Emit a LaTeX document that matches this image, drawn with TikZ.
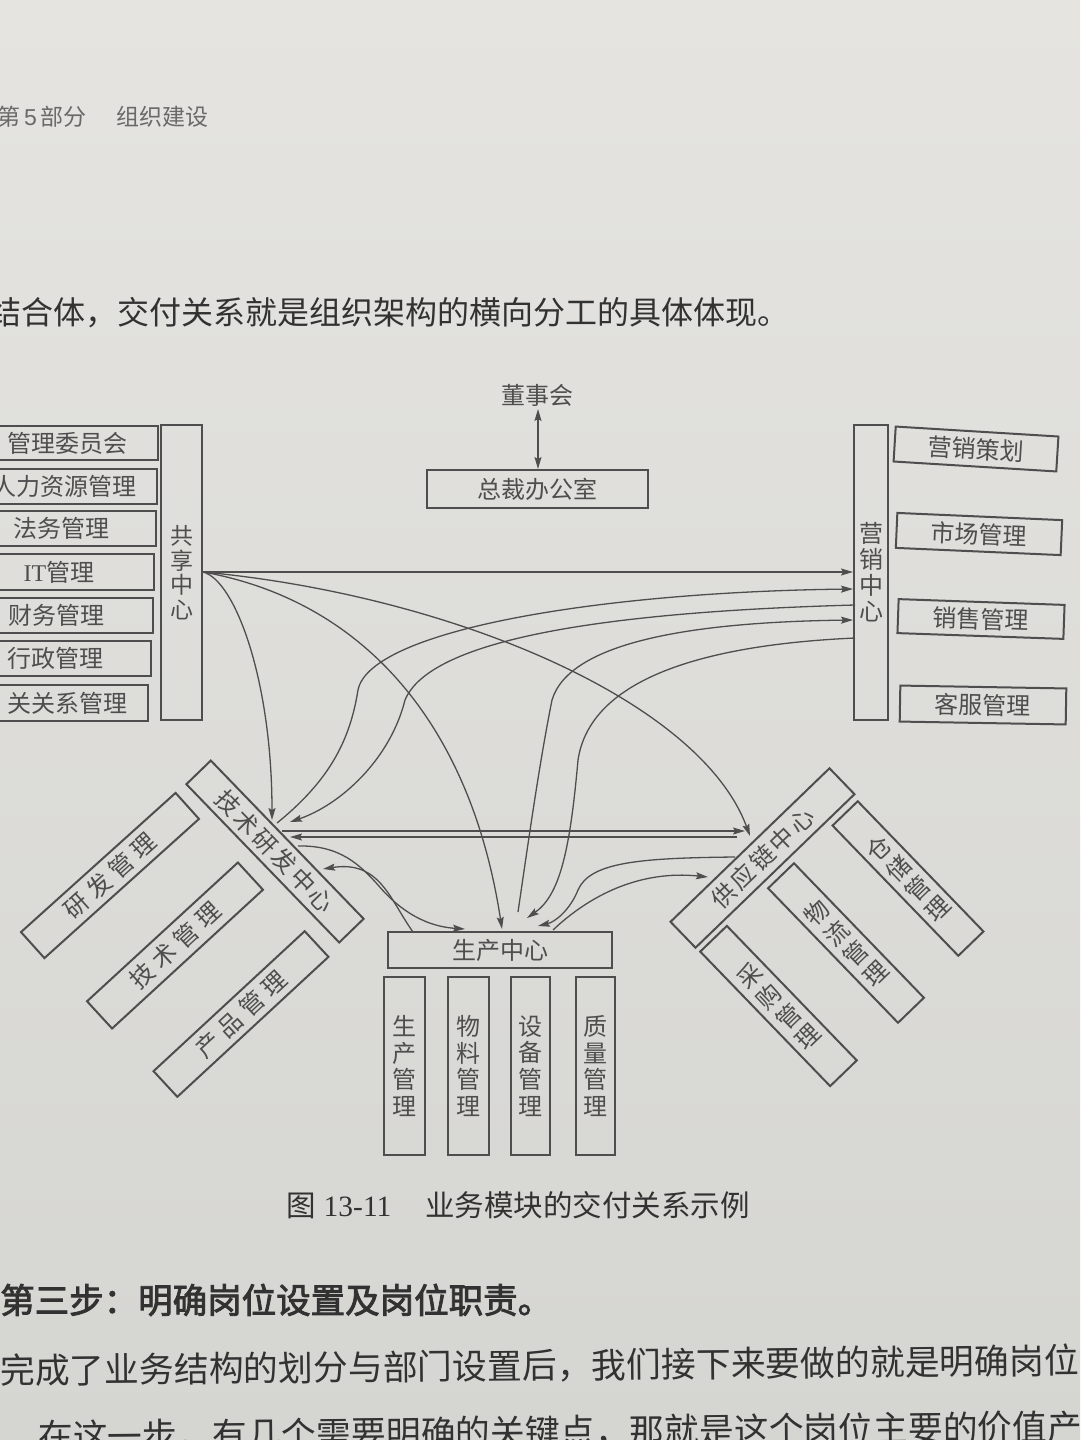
\documentclass[tikz,border=0pt]{standalone}
\usepackage{fontspec}
\setmainfont{Liberation Serif}
\setsansfont{Liberation Sans}
\newfontfamily\cjk{Noto Sans CJK SC}
\newfontfamily\cjkbold{Noto Sans CJK SC}[FakeBold=2.5]
\usetikzlibrary{arrows.meta}
\definecolor{paperA}{RGB}{229,228,224}
\definecolor{paperB}{RGB}{213,213,209}
\definecolor{ink}{RGB}{78,78,78}
\definecolor{bodyink}{RGB}{50,50,50}
\definecolor{headink}{RGB}{105,105,105}
\newcommand{\chgap}{\hspace{3pt}}
\newcommand{\chgapw}{\hspace{6pt}}
\begin{document}
\begin{tikzpicture}[x=1pt,y=1pt,
  box/.style={draw=ink, line width=2pt, inner sep=0pt, text=ink,
    font=\cjk\fontsize{24}{26.5}\selectfont, align=center},
  vbox/.style={box, font=\cjk\fontsize{24}{26.7}\selectfont},
  rvbox/.style={box, font=\cjk\fontsize{24}{28}\selectfont},
  lbl/.style={inner sep=0pt, text=ink, font=\cjk\fontsize{24}{26}\selectfont},
  conn/.style={draw=ink, line width=1.3pt},
  arr/.style={conn, -{Stealth[length=12pt,width=7pt,inset=2pt]}},
  darr/.style={conn, {Stealth[length=12pt,width=7pt,inset=2pt]}-{Stealth[length=12pt,width=7pt,inset=2pt]}},
  bodytext/.style={anchor=west, inner sep=0pt, text=bodyink}
]
\useasboundingbox (0,0) rectangle (1080,-1440);
\shade[top color=paperA, bottom color=paperB] (0,0) rectangle (1080,-1440);

% page text
\node[bodytext, text=headink, font=\cjk\fontsize{23}{23}\selectfont] (hd) at (-3,-117)
  {第\hspace{4pt}{\sffamily 5}\hspace{4pt}部分\hspace{30pt}组织建设};
\node[bodytext, font=\cjk\fontsize{32}{32}\selectfont] (t1) at (-11,-313)
  {结合体，交付关系就是组织架构的横向分工的具体体现。};
\node[bodytext, font=\cjk\fontsize{29.5}{29.5}\selectfont] (cap) at (286,-1205)
  {图\hspace{8pt}{\rmfamily 13-11}\hspace{34pt}业务模块的交付关系示例};
\node[bodytext, font=\cjkbold\fontsize{34.5}{34.5}\selectfont] (t2) at (0,-1300)
  {第三步：明确岗位设置及岗位职责。};
\node[bodytext, font=\cjk\fontsize{34.8}{34.8}\selectfont, rotate=0.55] (t3) at (0,-1371)
  {完成了业务结构的划分与部门设置后，我们接下来要做的就是明确岗位};
\node[bodytext, font=\cjk\fontsize{34.8}{34.8}\selectfont, rotate=0.55] (t4) at (38,-1437)
  {在这一步，有几个需要明确的关键点，那就是这个岗位主要的价值产};

% top
\node[lbl] (dsh) at (537,-395) {董事会};
\node[box, minimum width=221, minimum height=38] (zc) at (537.5,-489) {总裁办公室};
\coordinate (dsh-b) at (538,-409);
\coordinate (zc-t) at (538,-469);
\draw[darr] (dsh-b) -- (zc-t);

% shared services
\node[box, minimum width=182, minimum height=34] (m1) at (67,-443) {管理委员会};
\node[box, minimum width=184, minimum height=35] (m2) at (65,-486.5) {人力资源管理};
\node[box, minimum width=190, minimum height=35] (m3) at (61,-528.5) {法务管理};
\node[box, minimum width=190, minimum height=36] (m4) at (59,-572) {{\rmfamily IT}管理};
\node[box, minimum width=192, minimum height=35] (m5) at (57,-615.5) {财务管理};
\node[box, minimum width=192, minimum height=35] (m6) at (55,-658.5) {行政管理};
\node[box, minimum width=162, minimum height=36] (m7) at (67,-703) {关关系管理};
\node[box, minimum width=41, minimum height=295, font=\cjk\fontsize{23}{24.5}\selectfont] (gx) at (181.5,-572.5) {共\\享\\中\\心};

% marketing
\node[box, minimum width=34, minimum height=295, font=\cjk\fontsize{24}{26}\selectfont] (yx) at (871,-572.5) {营\\销\\中\\心};
\node[box, minimum width=163, minimum height=35, rotate=-3.5] (r1) at (976,-449) {营销策划};
\node[box, minimum width=165, minimum height=35, rotate=-2.5] (r2) at (979,-534) {市场管理};
\node[box, minimum width=166, minimum height=34, rotate=-2] (r3) at (981,-619) {销售管理};
\node[box, minimum width=166, minimum height=36, rotate=-1] (r4) at (983,-705) {客服管理};

% R&D cluster
\node[box, minimum width=220, minimum height=34, rotate=-46] (js) at (275,-851.5)
  {技\chgap 术\chgap 研\chgap 发\chgap 中\chgap 心};
\node[box, minimum width=208, minimum height=35, rotate=42] (yf) at (110,-875.5)
  {研\chgapw 发\chgapw 管\chgapw 理};
\node[box, minimum width=205, minimum height=37, rotate=42.6] (jg) at (175,-945.5)
  {技\chgapw 术\chgapw 管\chgapw 理};
\node[box, minimum width=206, minimum height=35, rotate=42.8] (cp) at (241,-1014)
  {产\chgapw 品\chgapw 管\chgapw 理};

% production cluster
\node[box, minimum width=224, minimum height=36] (sc) at (500,-950) {生产中心};
\node[vbox, minimum width=41, minimum height=178] (p1) at (404.5,-1066) {生\\产\\管\\理};
\node[vbox, minimum width=41, minimum height=178] (p2) at (468.5,-1066) {物\\料\\管\\理};
\node[vbox, minimum width=39, minimum height=178] (p3) at (530.5,-1066) {设\\备\\管\\理};
\node[vbox, minimum width=39, minimum height=178] (p4) at (595.5,-1066) {质\\量\\管\\理};

% supply chain cluster
\node[box, minimum width=221, minimum height=36, rotate=44] (gy) at (762.5,-858)
  {供\chgap 应\chgap 链\chgap 中\chgap 心};
\node[rvbox, minimum width=35, minimum height=181, rotate=44] (cc) at (908,-878.5) {仓\\储\\管\\理};
\node[rvbox, minimum width=36, minimum height=187, rotate=44] (wl) at (846,-943) {物\\流\\管\\理};
\node[rvbox, minimum width=37, minimum height=187, rotate=44] (cg) at (778.5,-1006) {采\\购\\管\\理};

% attachment points
\coordinate (gx-o) at (203,-572);
\coordinate (yx-a) at (853,-572);
\coordinate (yx-b) at (853,-589);
\coordinate (yx-c) at (855,-605);
\coordinate (yx-d) at (853,-620);
\coordinate (yx-e) at (855,-638);
\coordinate (js-a) at (272,-820);
\coordinate (js-b) at (277,-823);
\coordinate (js-c) at (290,-822);
\coordinate (js-d) at (282,-831);
\coordinate (js-e) at (290,-837);
\coordinate (js-f) at (298,-846);
\coordinate (js-g) at (323,-869);
\coordinate (sc-a) at (502,-929);
\coordinate (sc-b) at (518,-912);
\coordinate (sc-c) at (527,-918);
\coordinate (sc-d) at (465,-929);
\coordinate (sc-e) at (413,-932);
\coordinate (sc-f) at (538,-926);
\coordinate (sc-g) at (553,-930);
\coordinate (gy-a) at (750,-836);
\coordinate (gy-b) at (745,-831);
\coordinate (gy-c) at (737,-837);
\coordinate (gy-d) at (735,-857);
\coordinate (gy-e) at (708,-877);

% connectors from shared centre
\draw[arr] (gx-o) -- (yx-a);
\draw[arr] (gx-o) .. controls (235,-580) and (272,-680) .. (js-a);
\draw[arr] (gx-o) .. controls (360,-600) and (470,-720) .. (sc-a);
\draw[arr] (gx-o) .. controls (450,-595) and (700,-700) .. (gy-a);

% R&D <-> marketing
\draw[arr] (js-b) .. controls (330,-780) and (350,-740) .. (358,-690)
  .. controls (370,-630) and (600,-592) .. (yx-b);
\draw[arr] (yx-c) .. controls (600,-612) and (430,-640) .. (405,-700)
  .. controls (390,-760) and (340,-805) .. (js-c);

% production <-> marketing
\draw[arr] (sc-b) .. controls (530,-830) and (540,-760) .. (552,-700)
  .. controls (570,-640) and (700,-622) .. (yx-d);
\draw[arr] (yx-e) .. controls (700,-645) and (590,-680) .. (578,-760)
  .. controls (570,-850) and (560,-895) .. (sc-c);

% R&D <-> supply chain
\draw[arr] (js-d) -- (gy-b);
\draw[arr] (gy-c) -- (js-e);

% R&D <-> production
\draw[arr] (js-f) .. controls (340,-845) and (360,-865) .. (378,-885)
  .. controls (395,-905) and (420,-926) .. (sc-d);
\draw[arr] (sc-e) .. controls (390,-900) and (380,-860) .. (js-g);

% supply chain <-> production
\draw[arr] (gy-d) .. controls (640,-858) and (590,-862) .. (578,-890)
  .. controls (570,-910) and (555,-922) .. (sc-f);
\draw[arr] (sc-g) .. controls (590,-895) and (640,-870) .. (gy-e);
\end{tikzpicture}
\end{document}
